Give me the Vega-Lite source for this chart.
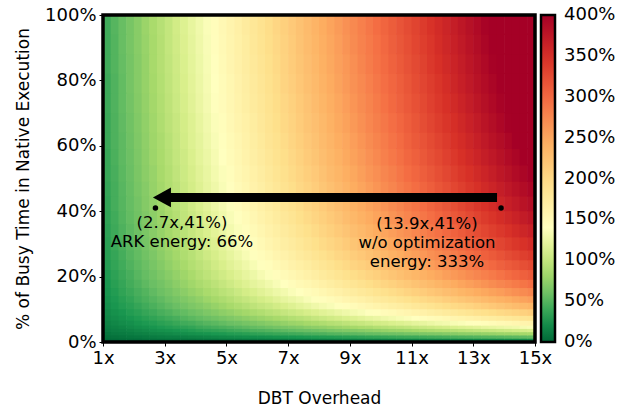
{
"$schema":"https://vega.github.io/schema/vega-lite/v6.json",
"width":432,"height":327,
"padding":{"left":14,"top":6,"right":5,"bottom":5},
"background":"white",
"config":{"view":{"stroke":null},"font":"DejaVu Sans",
"axis":{"domain":false,"grid":false,"ticks":true,"tickColor":"black","tickSize":4,"labelFontSize":18,"labelColor":"black","labelFont":"DejaVu Sans","titleFont":"DejaVu Sans","titleFontSize":17,"titleFontWeight":"normal","titleColor":"black","labelPadding":3,"labelFlush":false,"labelOverlap":false},
"legend":{"labelFontSize":18,"labelColor":"black","labelFont":"DejaVu Sans","gradientLength":327,"gradientThickness":14,"gradientStrokeColor":"black","gradientStrokeWidth":2.5,"labelOffset":9,"offset":6,"padding":0,"labelOverlap":false}},
"datasets":{
"cols":[{"c":0,"x0":1,"x1":1.27},{"c":1,"x0":1.25,"x1":1.52},{"c":2,"x0":1.5,"x1":1.77},{"c":3,"x0":1.75,"x1":2.02},{"c":4,"x0":2,"x1":2.27},{"c":5,"x0":2.25,"x1":2.52},{"c":6,"x0":2.5,"x1":2.77},{"c":7,"x0":2.75,"x1":3.02},{"c":8,"x0":3,"x1":3.27},{"c":9,"x0":3.25,"x1":3.52},{"c":10,"x0":3.5,"x1":3.77},{"c":11,"x0":3.75,"x1":4.02},{"c":12,"x0":4,"x1":4.27},{"c":13,"x0":4.25,"x1":4.52},{"c":14,"x0":4.5,"x1":4.77},{"c":15,"x0":4.75,"x1":5.02},{"c":16,"x0":5,"x1":5.27},{"c":17,"x0":5.25,"x1":5.52},{"c":18,"x0":5.5,"x1":5.77},{"c":19,"x0":5.75,"x1":6.02},{"c":20,"x0":6,"x1":6.27},{"c":21,"x0":6.25,"x1":6.52},{"c":22,"x0":6.5,"x1":6.77},{"c":23,"x0":6.75,"x1":7.02},{"c":24,"x0":7,"x1":7.27},{"c":25,"x0":7.25,"x1":7.52},{"c":26,"x0":7.5,"x1":7.77},{"c":27,"x0":7.75,"x1":8.02},{"c":28,"x0":8,"x1":8.27},{"c":29,"x0":8.25,"x1":8.52},{"c":30,"x0":8.5,"x1":8.77},{"c":31,"x0":8.75,"x1":9.02},{"c":32,"x0":9,"x1":9.27},{"c":33,"x0":9.25,"x1":9.52},{"c":34,"x0":9.5,"x1":9.77},{"c":35,"x0":9.75,"x1":10.02},{"c":36,"x0":10,"x1":10.27},{"c":37,"x0":10.25,"x1":10.52},{"c":38,"x0":10.5,"x1":10.77},{"c":39,"x0":10.75,"x1":11.02},{"c":40,"x0":11,"x1":11.27},{"c":41,"x0":11.25,"x1":11.52},{"c":42,"x0":11.5,"x1":11.77},{"c":43,"x0":11.75,"x1":12.02},{"c":44,"x0":12,"x1":12.27},{"c":45,"x0":12.25,"x1":12.52},{"c":46,"x0":12.5,"x1":12.77},{"c":47,"x0":12.75,"x1":13.02},{"c":48,"x0":13,"x1":13.27},{"c":49,"x0":13.25,"x1":13.52},{"c":50,"x0":13.5,"x1":13.77},{"c":51,"x0":13.75,"x1":14.02},{"c":52,"x0":14,"x1":14.27},{"c":53,"x0":14.25,"x1":14.52},{"c":54,"x0":14.5,"x1":14.77},{"c":55,"x0":14.75,"x1":15}],
"grid":[
{"p0":0,"p1":1.3,"c":[0,1,2,3,4,5,6,7,8,9,10,11,12,13,14,15,16,17,18,19,20,21,22,23,24,25,26,27,28,29,30,31,32,33,34,35,36,37,38,39,40,41,42,43,44,45,46,47,48,49,50,51,52,53,54,55],"e":[2,2,3,3,3,4,4,4,5,5,5,5,6,6,6,7,7,7,8,8,8,9,9,9,10,10,10,11,11,11,12,12,12,13,13,13,14,14,14,15,15,15,16,16,16,17,17,17,18,18,18,18,19,19,19,20]},
{"p0":1,"p1":2.3,"c":[0,1,2,3,4,5,6,7,8,9,10,11,12,13,14,15,16,17,18,19,20,21,22,23,24,25,26,27,28,29,30,31,32,33,34,35,36,37,38,39,40,41,42,43,44,45,46,47,48,49,50,51,52,53,54,55],"e":[5,6,7,8,9,10,11,12,13,13,14,15,16,17,18,19,20,21,22,22,23,24,25,26,27,28,29,30,31,31,32,33,34,35,36,37,38,39,40,41,41,42,43,44,45,46,47,48,49,50,50,51,52,53,54,55]},
{"p0":2,"p1":3.3,"c":[0,1,2,3,4,5,6,7,8,9,10,11,12,13,14,15,16,17,18,19,20,21,22,23,24,25,26,27,28,29,30,31,32,33,34,35,36,37,38,39,40,41,42,43,44,45,46,47,48,49,50,51,52,53,54,55],"e":[8,10,11,12,14,15,17,18,19,21,22,24,25,26,28,29,31,32,33,35,36,38,39,40,42,43,45,46,47,49,50,52,53,54,56,57,59,60,61,63,64,66,67,68,70,71,73,74,75,77,78,80,81,82,84,85]},
{"p0":3,"p1":4.3,"c":[0,1,2,3,4,5,6,7,8,9,10,11,12,13,14,15,16,17,18,19,20,21,22,23,24,25,26,27,28,29,30,31,32,33,34,35,36,37,38,39,40,41,42,43,44,45,46,47,48,49,50,51,52,53,54,55],"e":[11,13,14,16,18,20,22,24,25,27,29,31,33,35,36,38,40,42,44,46,47,49,51,53,55,57,58,60,62,64,66,68,69,71,73,75,77,79,80,82,84,86,88,90,91,93,95,97,99,101,102,104,106,108,110,112]},
{"p0":4,"p1":5.3,"c":[0,1,2,3,4,5,6,7,8,9,10,11,12,13,14,15,16,17,18,19,20,21,22,23,24,25,26,27,28,29,30,31,32,33,34,35,36,37,38,39,40,41,42,43,44,45,46,47,48,49,50,51,52,53,54,55],"e":[13,15,17,20,22,24,26,29,31,33,35,37,40,42,44,46,48,51,53,55,57,60,62,64,66,68,71,73,75,77,79,82,84,86,88,91,93,95,97,99,102,104,106,108,110,113,115,117,119,122,124,126,128,130,133,135]},
{"p0":5,"p1":6.8,"c":[0,1,2,3,4,5,6,7,8,9,10,11,12,13,14,15,16,17,18,19,20,21,22,23,24,25,26,27,28,29,30,31,32,33,34,35,36,37,38,39,40,41,42,43,44,45,46,47,48,49,50,51,52,53,54,55],"e":[15,18,21,23,26,29,31,34,36,39,42,44,47,50,52,55,58,60,63,65,68,71,73,76,79,81,84,86,89,92,94,97,100,102,105,108,110,113,115,118,121,123,126,129,131,134,136,139,142,144,147,150,152,155,158,160]},
{"p0":6.5,"p1":8.3,"c":[0,1,2,3,4,5,6,7,8,9,10,11,12,13,14,15,16,17,18,19,20,21,22,23,24,25,26,27,28,29,30,31,32,33,34,35,36,37,38,39,40,41,42,43,44,45,46,47,48,49,50,51,52,53,54,55],"e":[18,21,24,27,30,33,36,39,42,45,49,52,55,58,61,64,67,70,73,76,79,82,85,88,91,94,97,101,104,107,110,113,116,119,122,125,128,131,134,137,140,143,146,149,152,156,159,162,165,168,171,174,177,180,183,186]},
{"p0":8,"p1":10.3,"c":[0,1,2,3,4,5,6,7,8,9,10,11,12,13,14,15,16,17,18,19,20,21,22,23,24,25,26,27,28,29,30,31,32,33,34,35,36,37,38,39,40,41,42,43,44,45,46,47,48,49,50,51,52,53,54,55],"e":[20,24,27,31,34,38,41,45,48,52,55,59,62,66,69,73,76,80,83,87,90,94,97,101,104,107,111,114,118,121,125,128,132,135,139,142,146,149,153,156,160,163,167,170,174,177,181,184,188,191,194,198,201,205,208,212]},
{"p0":10,"p1":12.3,"c":[0,1,2,3,4,5,6,7,8,9,10,11,12,13,14,15,16,17,18,19,20,21,22,23,24,25,26,27,28,29,30,31,32,33,34,35,36,37,38,39,40,41,42,43,44,45,46,47,48,49,50,51,52,53,54,55],"e":[23,27,31,34,38,42,46,50,54,58,62,66,69,73,77,81,85,89,93,97,101,104,108,112,116,120,124,128,132,135,139,143,147,151,155,159,163,167,170,174,178,182,186,190,194,198,201,205,209,213,217,221,225,229,233,236]},
{"p0":12,"p1":14.3,"c":[0,1,2,3,4,5,6,7,8,9,10,11,12,13,14,15,16,17,18,19,20,21,22,23,24,25,26,27,28,29,30,31,32,33,34,35,36,37,38,39,40,41,42,43,44,45,46,47,48,49,50,51,52,53,54,55],"e":[25,29,33,37,42,46,50,54,59,63,67,71,75,80,84,88,92,97,101,105,109,113,118,122,126,130,135,139,143,147,151,156,160,164,168,173,177,181,185,189,194,198,202,206,211,215,219,223,227,232,236,240,244,249,253,257]},
{"p0":14,"p1":16.8,"c":[0,1,2,3,4,5,6,7,8,9,10,11,12,13,14,15,16,17,18,19,20,21,22,23,24,25,26,27,28,29,30,31,32,33,34,35,36,37,38,39,40,41,42,43,44,45,46,47,48,49,50,51,52,53,54,55],"e":[27,31,36,40,45,49,54,59,63,68,72,77,81,86,90,95,99,104,109,113,118,122,127,131,136,140,145,149,154,159,163,168,172,177,181,186,190,195,199,204,209,213,218,222,227,231,236,240,245,249,254,258,263,268,272,277]},
{"p0":16.5,"p1":19.3,"c":[0,1,2,3,4,5,6,7,8,9,10,11,12,13,14,15,16,17,18,19,20,21,22,23,24,25,26,27,28,29,30,31,32,33,34,35,36,37,38,39,40,41,42,43,44,45,46,47,48,49,50,51,52,53,54,55],"e":[28,33,38,43,48,53,58,62,67,72,77,82,87,91,96,101,106,111,116,121,125,130,135,140,145,150,154,159,164,169,174,179,183,188,193,198,203,208,213,217,222,227,232,237,242,246,251,256,261,266,271,276,280,285,290,295]},
{"p0":19,"p1":22.3,"c":[0,1,2,3,4,5,6,7,8,9,10,11,12,13,14,15,16,17,18,19,20,21,22,23,24,25,26,27,28,29,30,31,32,33,34,35,36,37,38,39,40,41,42,43,44,45,46,47,48,49,50,51,52,53,54,55],"e":[30,35,40,45,51,56,61,66,71,76,81,86,92,97,102,107,112,117,122,127,133,138,143,148,153,158,163,168,174,179,184,189,194,199,204,209,215,220,225,230,235,240,245,250,256,261,266,271,276,281,286,291,297,302,307,312]},
{"p0":22,"p1":25.3,"c":[0,1,2,3,4,5,6,7,8,9,10,11,12,13,14,15,16,17,18,19,20,21,22,23,24,25,26,27,28,29,30,31,32,33,34,35,36,37,38,39,40,41,42,43,44,45,46,47,48,49,50,51,52,53,54,55],"e":[32,37,42,48,53,58,64,69,75,80,85,91,96,101,107,112,118,123,128,134,139,144,150,155,161,166,171,177,182,187,193,198,204,209,214,220,225,230,236,241,247,252,257,263,268,273,279,284,290,295,300,306,311,316,322,327]},
{"p0":25,"p1":28.3,"c":[0,1,2,3,4,5,6,7,8,9,10,11,12,13,14,15,16,17,18,19,20,21,22,23,24,25,26,27,28,29,30,31,32,33,34,35,36,37,38,39,40,41,42,43,44,45,46,47,48,49,50,51,52,53,54,55],"e":[33,38,44,50,55,61,66,72,78,83,89,94,100,106,111,117,122,128,134,139,145,150,156,161,167,173,178,184,189,195,201,206,212,217,223,229,234,240,245,251,256,262,268,273,279,284,290,296,301,307,312,318,324,329,335,340]},
{"p0":28,"p1":32.3,"c":[0,1,2,3,4,5,6,7,8,9,10,11,12,13,14,15,16,17,18,19,20,21,22,23,24,25,26,27,28,29,30,31,32,33,34,35,36,37,38,39,40,41,42,43,44,45,46,47,48,49,50,51,52,53,54,55],"e":[34,40,46,52,57,63,69,75,81,86,92,98,104,110,115,121,127,133,139,144,150,156,162,168,173,179,185,191,197,202,208,214,220,226,231,237,243,249,255,260,266,272,278,284,289,295,301,307,313,318,324,330,336,342,347,353]},
{"p0":32,"p1":36.3,"c":[0,1,2,3,4,5,6,7,8,9,10,11,12,13,14,15,16,17,18,19,20,21,22,23,24,25,26,27,28,29,30,31,32,33,34,35,36,37,38,39,40,41,42,43,44,45,46,47,48,49,50,51,52,53,54,55],"e":[35,41,47,53,59,65,71,77,83,89,95,101,107,113,119,125,131,137,143,149,155,161,167,173,179,185,191,197,203,209,215,221,227,233,239,245,251,257,263,269,275,281,287,293,299,305,311,317,323,329,335,341,347,353,359,365]},
{"p0":36,"p1":40.3,"c":[0,1,2,3,4,5,6,7,8,9,10,11,12,13,14,15,16,17,18,19,20,21,22,23,24,25,26,27,28,29,30,31,32,33,34,35,36,37,38,39,40,41,42,43,44,45,46,47,48,49,50,51,52,53,54,55],"e":[36,42,49,55,61,67,73,79,86,92,98,104,110,116,123,129,135,141,147,153,160,166,172,178,184,191,197,203,209,215,221,228,234,240,246,252,258,265,271,277,283,289,295,302,308,314,320,326,332,339,345,351,357,363,370,376]},
{"p0":40,"p1":44.8,"c":[0,1,2,3,4,5,6,7,8,9,10,11,12,13,14,15,16,17,18,19,20,21,22,23,24,25,26,27,28,29,30,31,32,33,34,35,36,37,38,39,40,41,42,43,44,45,46,47,48,49,50,51,52,53,54,55],"e":[37,44,50,56,62,69,75,81,88,94,100,107,113,119,126,132,138,145,151,157,164,170,176,183,189,195,202,208,214,221,227,233,240,246,252,258,265,271,277,284,290,296,303,309,315,322,328,334,341,347,353,360,366,372,379,385]},
{"p0":44.5,"p1":49.3,"c":[0,1,2,3,4,5,6,7,8,9,10,11,12,13,14,15,16,17,18,19,20,21,22,23,24,25,26,27,28,29,30,31,32,33,34,35,36,37,38,39,40,41,42,43,44,45,46,47,48,49,50,51,52,53,54,55],"e":[38,44,51,57,64,70,77,83,90,96,103,109,116,122,128,135,141,148,154,161,167,174,180,187,193,200,206,212,219,225,232,238,245,251,258,264,271,277,284,290,296,303,309,316,322,329,335,342,348,355,361,368,374,380,387,393]},
{"p0":49,"p1":54.3,"c":[0,1,2,3,4,5,6,7,8,9,10,11,12,13,14,15,16,17,18,19,20,21,22,23,24,25,26,27,28,29,30,31,32,33,34,35,36,37,38,39,40,41,42,43,44,45,46,47,48,49,50,51,52,53,54,55],"e":[39,45,52,58,65,72,78,85,91,98,105,111,118,124,131,137,144,151,157,164,170,177,184,190,197,203,210,216,223,230,236,243,249,256,263,269,276,282,289,296,302,309,315,322,328,335,342,348,355,361,368,375,381,388,394,400]},
{"p0":54,"p1":59.3,"c":[0,1,2,3,4,5,6,7,8,9,10,11,12,13,14,15,16,17,18,19,20,21,22,23,24,25,26,27,28,29,30,31,32,33,34,35,36,37,38,39,40,41,42,43,44,45,46,47,48,49,50,51,52,53,54,55],"e":[39,46,53,59,66,73,80,86,93,100,106,113,120,126,133,140,147,153,160,167,173,180,187,193,200,207,214,220,227,234,240,247,254,260,267,274,281,287,294,301,307,314,321,327,334,341,348,354,361,368,374,381,388,394,400,400]},
{"p0":59,"p1":64.3,"c":[0,1,2,3,4,5,6,7,8,9,10,11,12,13,14,15,16,17,18,19,20,21,22,23,24,25,26,27,28,29,30,31,32,33,34,35,36,37,38,39,40,41,42,43,44,45,46,47,48,49,50,51,52,53,54,55],"e":[40,47,53,60,67,74,81,87,94,101,108,115,121,128,135,142,149,155,162,169,176,183,189,196,203,210,217,223,230,237,244,250,257,264,271,278,284,291,298,305,312,318,325,332,339,346,352,359,366,373,380,386,393,400,400,400]},
{"p0":64,"p1":70.3,"c":[0,1,2,3,4,5,6,7,8,9,10,11,12,13,14,15,16,17,18,19,20,21,22,23,24,25,26,27,28,29,30,31,32,33,34,35,36,37,38,39,40,41,42,43,44,45,46,47,48,49,50,51,52,53,54,55],"e":[40,47,54,61,68,75,82,89,96,102,109,116,123,130,137,144,151,158,164,171,178,185,192,199,206,213,220,226,233,240,247,254,261,268,275,282,288,295,302,309,316,323,330,337,344,350,357,364,371,378,385,392,399,400,400,400]},
{"p0":70,"p1":76.3,"c":[0,1,2,3,4,5,6,7,8,9,10,11,12,13,14,15,16,17,18,19,20,21,22,23,24,25,26,27,28,29,30,31,32,33,34,35,36,37,38,39,40,41,42,43,44,45,46,47,48,49,50,51,52,53,54,55],"e":[41,48,55,62,69,76,83,90,97,104,111,118,125,132,139,146,153,160,167,174,180,187,194,201,208,215,222,229,236,243,250,257,264,271,278,285,292,299,306,313,320,327,334,341,348,355,362,369,376,383,390,397,400,400,400,400]},
{"p0":76,"p1":82.3,"c":[0,1,2,3,4,5,6,7,8,9,10,11,12,13,14,15,16,17,18,19,20,21,22,23,24,25,26,27,28,29,30,31,32,33,34,35,36,37,38,39,40,41,42,43,44,45,46,47,48,49,50,51,52,53,54,55],"e":[41,48,55,63,70,77,84,91,98,105,112,119,126,133,140,147,154,161,168,175,182,189,196,204,211,218,225,232,239,246,253,260,267,274,281,288,295,302,309,316,323,330,337,344,351,359,366,373,380,387,394,400,400,400,400,400]},
{"p0":82,"p1":88.3,"c":[0,1,2,3,4,5,6,7,8,9,10,11,12,13,14,15,16,17,18,19,20,21,22,23,24,25,26,27,28,29,30,31,32,33,34,35,36,37,38,39,40,41,42,43,44,45,46,47,48,49,50,51,52,53,54,55],"e":[42,49,56,63,70,77,85,92,99,106,113,120,127,134,141,149,156,163,170,177,184,191,198,206,213,220,227,234,241,248,255,262,269,277,284,291,298,305,312,319,326,333,341,348,355,362,369,376,383,390,398,400,400,400,400,400]},
{"p0":88,"p1":94.3,"c":[0,1,2,3,4,5,6,7,8,9,10,11,12,13,14,15,16,17,18,19,20,21,22,23,24,25,26,27,28,29,30,31,32,33,34,35,36,37,38,39,40,41,42,43,44,45,46,47,48,49,50,51,52,53,54,55],"e":[42,49,57,64,71,78,85,92,100,107,114,121,128,135,143,150,157,164,171,179,186,193,200,207,214,222,229,236,243,250,257,265,272,279,286,293,300,308,315,322,329,336,343,351,358,365,372,379,386,394,400,400,400,400,400,400]},
{"p0":94,"p1":100,"c":[0,1,2,3,4,5,6,7,8,9,10,11,12,13,14,15,16,17,18,19,20,21,22,23,24,25,26,27,28,29,30,31,32,33,34,35,36,37,38,39,40,41,42,43,44,45,46,47,48,49,50,51,52,53,54,55],"e":[42,50,57,64,71,79,86,93,100,108,115,122,129,136,144,151,158,165,173,180,187,194,202,209,216,223,231,238,245,252,259,267,274,281,288,296,303,310,317,324,331,339,346,353,360,368,375,382,389,397,400,400,400,400,400,400]}
]},
"layer":[
{"data":{"name":"grid"},
 "transform":[{"flatten":["c","e"]},{"lookup":"c","from":{"data":{"name":"cols"},"key":"c","fields":["x0","x1"]}}],
 "mark":{"type":"rect","strokeWidth":0},
 "encoding":{
  "x":{"field":"x0","type":"quantitative","title":"DBT Overhead","scale":{"domain":[1,15],"nice":false,"zero":false},"axis":{"values":[1,3,5,7,9,11,13,15],"labelExpr":"datum.value + 'x'","titlePadding":23}},
  "x2":{"field":"x1"},
  "y":{"field":"p0","type":"quantitative","title":"% of Busy Time in Native Execution","scale":{"domain":[0,100],"nice":false,"zero":false},"axis":{"values":[0,20,40,60,80,100],"labelExpr":"datum.value + '%'","titlePadding":12}},
  "y2":{"field":"p1"},
  "color":{"field":"e","type":"quantitative","title":null,"scale":{"type":"linear","domain":[0,28,56,84,112,140,192,244,296,348,400],"range":["#006837","#1a9850","#66bd63","#a6d96a","#d9ef8b","#ffffbf","#fee08b","#fdae61","#f46d43","#d73027","#a50026"],"interpolate":"rgb","clamp":true},"legend":{"type":"gradient","values":[0.01,50,100,150,200,250,300,350,399.99],"labelExpr":"round(datum.value) + '%'","title":null,"direction":"vertical","orient":"right","labelOffset":9}}
 }},
{"data":{"values":[{"xa":1,"xb":15,"ya":0,"yb":100}]},
 "mark":{"type":"rect","fillOpacity":0,"stroke":"black","strokeWidth":3.5},
 "encoding":{"x":{"field":"xa","type":"quantitative","title":"DBT Overhead"},"x2":{"field":"xb"},"y":{"field":"ya","type":"quantitative","title":"% of Busy Time in Native Execution"},"y2":{"field":"yb"}}},
{"data":{"values":[{"xa":3.0,"xb":13.77,"y":44.2}]},
 "mark":{"type":"rule","color":"black","strokeWidth":9,"strokeCap":"butt"},
 "encoding":{"x":{"field":"xa","type":"quantitative","title":"DBT Overhead"},"x2":{"field":"xb"},"y":{"field":"y","type":"quantitative","title":"% of Busy Time in Native Execution"}}},
{"data":{"values":[{"x":2.91,"y":44.2}]},
 "mark":{"type":"point","shape":"M-1,0L1,-1.1L1,1.1Z","filled":true,"color":"black","opacity":1,"size":324,"strokeWidth":0},
 "encoding":{"x":{"field":"x","type":"quantitative","title":"DBT Overhead"},"y":{"field":"y","type":"quantitative","title":"% of Busy Time in Native Execution"}}},
{"data":{"values":[{"x":2.7,"y":41},{"x":13.9,"y":41}]},
 "mark":{"type":"point","shape":"circle","filled":true,"color":"black","opacity":1,"size":30},
 "encoding":{"x":{"field":"x","type":"quantitative","title":"DBT Overhead"},"y":{"field":"y","type":"quantitative","title":"% of Busy Time in Native Execution"}}},
{"data":{"values":[{"x":3.56,"y":36.4,"t":"(2.7x,41%)"},{"x":3.56,"y":30.6,"t":"ARK energy: 66%"},{"x":11.5,"y":36.1,"t":"(13.9x,41%)"},{"x":11.5,"y":30.4,"t":"w/o optimization"},{"x":11.5,"y":24.5,"t":"energy: 333%"}]},
 "mark":{"type":"text","fontSize":16.5,"font":"DejaVu Sans","color":"black","align":"center","baseline":"middle"},
 "encoding":{"x":{"field":"x","type":"quantitative","title":"DBT Overhead"},"y":{"field":"y","type":"quantitative","title":"% of Busy Time in Native Execution"},"text":{"field":"t"}}}
]
}
